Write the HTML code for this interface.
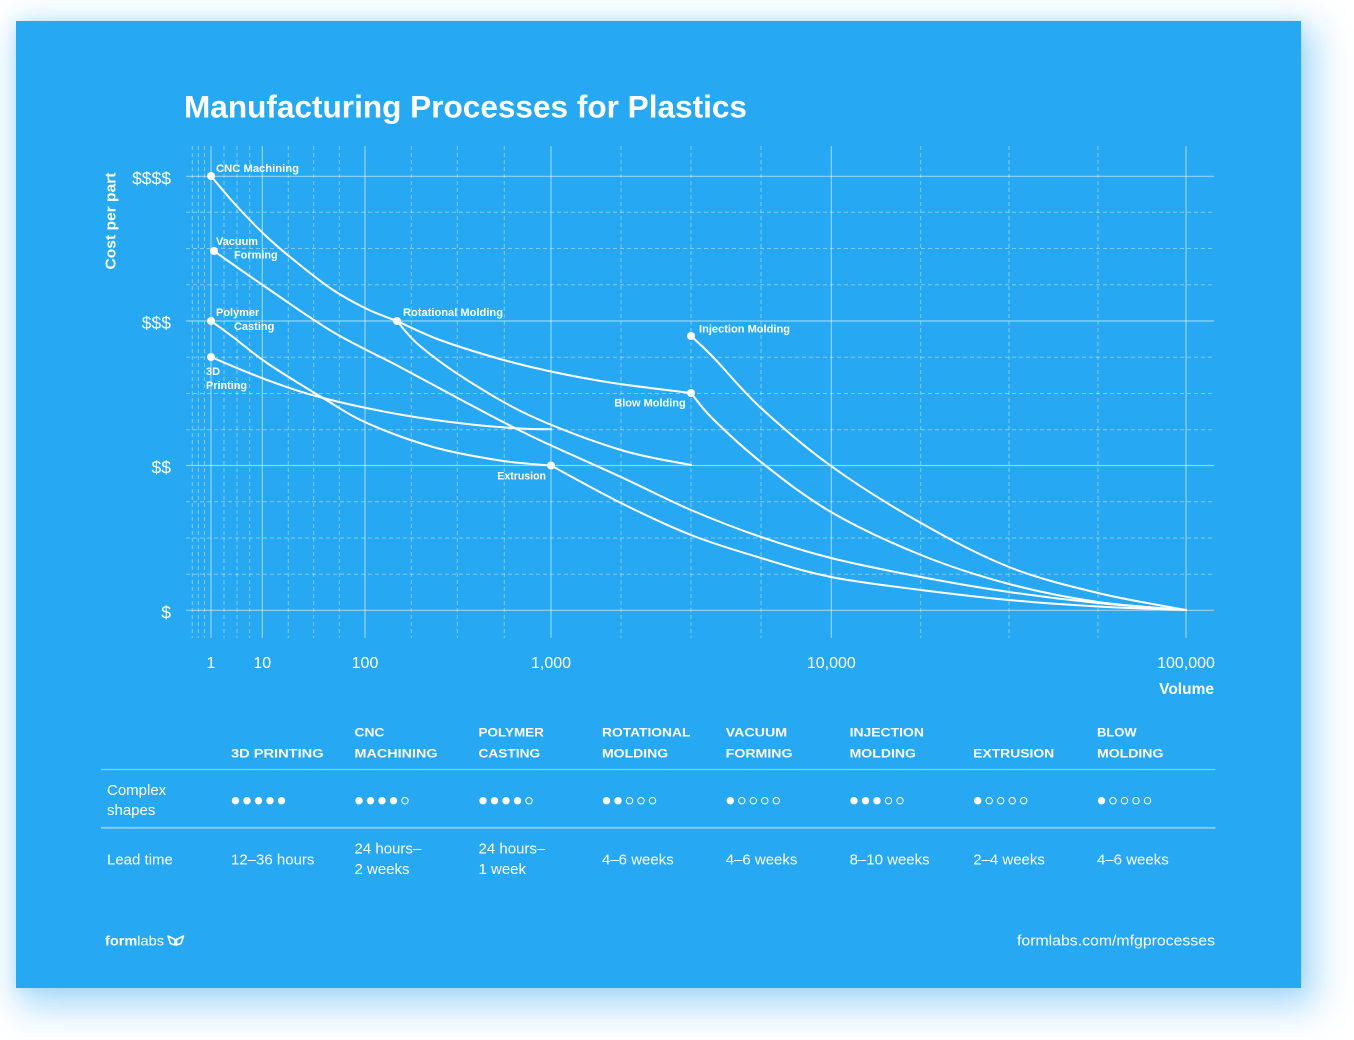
<!DOCTYPE html>
<html>
<head>
<meta charset="utf-8">
<style>
  html,body{margin:0;padding:0;background:#ffffff;}
  body{width:1354px;height:1040px;position:relative;overflow:hidden;}
  #panel{position:absolute;left:16px;top:21px;width:1285px;height:967px;background:#26a8f2;
    box-shadow:8px 12px 34px 6px rgba(40,165,240,0.42), 0 0 10px rgba(40,165,240,0.15);}
  svg{position:absolute;left:0;top:0;}
  text{font-family:"Liberation Sans",Arial,sans-serif;fill:#ffffff;}
  .lbl{font-size:11px;font-weight:bold;}
  .hdr{font-size:12px;font-weight:bold;}
  .val{font-size:15px;}
</style>
</head>
<body>
<div id="panel"></div>
<svg width="1354" height="1040" viewBox="0 0 1354 1040" xmlns="http://www.w3.org/2000/svg">
  <!-- Title -->
  <text x="184" y="117.5" font-size="31.5" font-weight="bold" textLength="563" lengthAdjust="spacingAndGlyphs">Manufacturing Processes for Plastics</text>

  <!-- Grid: vertical dashed -->
  <g stroke="rgba(255,255,255,0.42)" stroke-width="1" stroke-dasharray="4 3" fill="none">
    <line x1="192.3" y1="146" x2="192.3" y2="638"/>
    <line x1="198.3" y1="146" x2="198.3" y2="638"/>
    <line x1="204.5" y1="146" x2="204.5" y2="638"/>
    <line x1="224" y1="146" x2="224" y2="638"/>
    <line x1="237" y1="146" x2="237" y2="638"/>
    <line x1="249.7" y1="146" x2="249.7" y2="638"/>
    <line x1="288.3" y1="146" x2="288.3" y2="638"/>
    <line x1="313.7" y1="146" x2="313.7" y2="638"/>
    <line x1="339.3" y1="146" x2="339.3" y2="638"/>
    <line x1="411.3" y1="146" x2="411.3" y2="638"/>
    <line x1="457.3" y1="146" x2="457.3" y2="638"/>
    <line x1="504.3" y1="146" x2="504.3" y2="638"/>
    <line x1="621" y1="146" x2="621" y2="638"/>
    <line x1="691" y1="146" x2="691" y2="638"/>
    <line x1="761" y1="146" x2="761" y2="638"/>
    <line x1="920.7" y1="146" x2="920.7" y2="638"/>
    <line x1="1009" y1="146" x2="1009" y2="638"/>
    <line x1="1098" y1="146" x2="1098" y2="638"/>
  </g>
  <!-- Grid: horizontal dashed -->
  <g stroke="rgba(255,255,255,0.42)" stroke-width="1" stroke-dasharray="4 3" fill="none">
    <line x1="186" y1="212.3" x2="1214" y2="212.3"/>
    <line x1="186" y1="248.5" x2="1214" y2="248.5"/>
    <line x1="186" y1="284.8" x2="1214" y2="284.8"/>
    <line x1="186" y1="357.3" x2="1214" y2="357.3"/>
    <line x1="186" y1="393.5" x2="1214" y2="393.5"/>
    <line x1="186" y1="429.7" x2="1214" y2="429.7"/>
    <line x1="186" y1="501.8" x2="1214" y2="501.8"/>
    <line x1="186" y1="538" x2="1214" y2="538"/>
    <line x1="186" y1="574.2" x2="1214" y2="574.2"/>
  </g>
  <!-- Grid: solid -->
  <g stroke="rgba(255,255,255,0.5)" stroke-width="1.2" fill="none">
    <line x1="211" y1="146" x2="211" y2="638"/>
    <line x1="262.3" y1="146" x2="262.3" y2="638"/>
    <line x1="365" y1="146" x2="365" y2="638"/>
    <line x1="551" y1="146" x2="551" y2="638"/>
    <line x1="831.3" y1="146" x2="831.3" y2="638"/>
    <line x1="1186" y1="146" x2="1186" y2="638"/>
    <line x1="186" y1="176.3" x2="1214" y2="176.3"/>
    <line x1="186" y1="321" x2="1214" y2="321"/>
    <line x1="186" y1="465.5" x2="1214" y2="465.5"/>
    <line x1="186" y1="610.3" x2="1214" y2="610.3"/>
  </g>

  <!-- Curves -->
  <g stroke="#ffffff" stroke-width="2" fill="none" stroke-linejoin="round" stroke-linecap="round">
    <!-- CNC -->
    <path d="M211,176 C214.7,180.3 223.7,191.8 233,202 C242.3,212.2 255.8,226.5 267,237 C278.2,247.5 289,256.2 300,265 C311,273.8 321.8,282.7 333,290 C344.2,297.3 356.3,303.8 367,309 C377.7,314.2 392,319 397,321"/>
    <!-- Rotational shallow to Blow -->
    <path d="M397,321 C404.2,324.2 422.8,333.7 440,340 C457.2,346.3 481.5,353.75 500,359 C518.5,364.25 532.2,367.5 551,371.5 C569.8,375.5 589.7,379.4 613,383 C636.3,386.6 678,391.3 691,393"/>
    <!-- Rotational steep -->
    <path d="M397,321 C400.8,325.2 408.3,336.2 420,346 C431.7,355.8 448.2,368.2 467,380 C485.8,391.8 507.3,405.3 533,417 C558.7,428.7 594.7,442 621,450 C647.3,458 679.3,462.5 691,465"/>
    <!-- Vacuum forming -->
    <path d="M214,251 C222.8,257.2 247.2,274.5 267,288 C286.8,301.5 310.8,318.8 333,332 C355.2,345.2 377.7,355.2 400,367 C422.3,378.8 444.8,391.3 467,403 C489.2,414.7 507.3,424.7 533,437 C558.7,449.3 594.7,464.8 621,477 C647.3,489.2 667.7,500 691,510 C714.3,520 737.7,529 761,537 C784.3,545 804.3,551.3 831,558 C857.7,564.7 891.3,571.3 921,577 C950.7,582.7 979.5,587.7 1009,592 C1038.5,596.3 1068.5,600 1098,603 C1127.5,606 1171.3,608.8 1186,610"/>
    <!-- Polymer casting to Extrusion -->
    <path d="M211,321 C214.7,323.7 223.7,330 233,337 C242.3,344 252,352.8 267,363 C282,373.2 306.3,388 323,398 C339.7,408 348.7,414.8 367,423 C385.3,431.2 410.8,440.75 433,447 C455.2,453.25 480.3,457.4 500,460.5 C519.7,463.6 542.5,464.7 551,465.5"/>
    <!-- Extrusion -->
    <path d="M551,465.5 C562.7,471.75 597.7,491.4 621,503 C644.3,514.6 667.7,525.8 691,535 C714.3,544.2 737.7,551 761,558 C784.3,565 804.3,571.7 831,577 C857.7,582.3 891.3,586.2 921,590 C950.7,593.8 979.5,597.25 1009,600 C1038.5,602.75 1068.5,604.8 1098,606.5 C1127.5,608.2 1171.3,609.4 1186,610"/>
    <!-- 3D printing -->
    <path d="M211,357 C220.3,360.8 248.3,373.2 267,380 C285.7,386.8 300.8,392.25 323,398 C345.2,403.75 376,410.2 400,414.5 C424,418.8 447,421.7 467,424 C487,426.3 506,427.6 520,428.5 C534,429.4 545.8,429.2 551,429.3"/>
    <!-- Blow molding -->
    <path d="M691,393 C694.7,397.3 701.3,407.5 713,419 C724.7,430.5 741.3,446.5 761,462 C780.7,477.5 804.3,496.5 831,512 C857.7,527.5 891.3,543 921,555 C950.7,567 979.5,576.2 1009,584 C1038.5,591.8 1068.5,597.7 1098,602 C1127.5,606.3 1171.3,608.7 1186,610"/>
    <!-- Injection molding -->
    <path d="M691,336 C694.7,339.5 701.3,345 713,357 C724.7,369 741.3,389.8 761,408 C780.7,426.2 804.3,446.8 831,466 C857.7,485.2 891.3,506.2 921,523 C950.7,539.8 979.5,555.3 1009,567 C1038.5,578.7 1068.5,585.8 1098,593 C1127.5,600.2 1171.3,607.2 1186,610"/>
  </g>

  <!-- Dots -->
  <g fill="#ffffff">
    <circle cx="211" cy="176" r="4"/>
    <circle cx="214" cy="251" r="4"/>
    <circle cx="211" cy="321" r="4"/>
    <circle cx="211" cy="357" r="4"/>
    <circle cx="397" cy="321" r="4"/>
    <circle cx="551" cy="465.5" r="4"/>
    <circle cx="691" cy="393" r="4"/>
    <circle cx="691" cy="336" r="4"/>
  </g>

  <!-- Point labels -->
  <text class="lbl" x="216" y="172" textLength="83" lengthAdjust="spacingAndGlyphs">CNC Machining</text>
  <text class="lbl" x="216" y="245" textLength="42" lengthAdjust="spacingAndGlyphs">Vacuum</text>
  <text class="lbl" x="234" y="258.5" textLength="43.7" lengthAdjust="spacingAndGlyphs">Forming</text>
  <text class="lbl" x="216" y="316" textLength="43.3" lengthAdjust="spacingAndGlyphs">Polymer</text>
  <text class="lbl" x="234" y="330" textLength="40.3" lengthAdjust="spacingAndGlyphs">Casting</text>
  <text class="lbl" x="206" y="375">3D</text>
  <text class="lbl" x="206" y="389" textLength="41" lengthAdjust="spacingAndGlyphs">Printing</text>
  <text class="lbl" x="403" y="316" textLength="100" lengthAdjust="spacingAndGlyphs">Rotational Molding</text>
  <text class="lbl" x="497.3" y="479.3" textLength="48.7" lengthAdjust="spacingAndGlyphs">Extrusion</text>
  <text class="lbl" x="614.3" y="406.5" textLength="71.4" lengthAdjust="spacingAndGlyphs">Blow Molding</text>
  <text class="lbl" x="699" y="332.5" textLength="91" lengthAdjust="spacingAndGlyphs">Injection Molding</text>

  <!-- Y axis -->
  <text x="0" y="0" font-size="15" font-weight="bold" transform="translate(115.5,221) rotate(-90)" text-anchor="middle" textLength="97" lengthAdjust="spacingAndGlyphs">Cost per part</text>
  <g font-size="17.5" text-anchor="end">
    <text x="171" y="184.3">$$$$</text>
    <text x="171" y="329">$$$</text>
    <text x="171" y="473.5">$$</text>
    <text x="171" y="618.3">$</text>
  </g>

  <!-- X axis -->
  <g font-size="16" text-anchor="middle">
    <text x="211" y="668">1</text>
    <text x="262.3" y="668">10</text>
    <text x="365" y="668">100</text>
    <text x="551" y="668">1,000</text>
    <text x="831.3" y="668">10,000</text>
    <text x="1186" y="668">100,000</text>
  </g>
  <text x="1214" y="694" font-size="15.5" font-weight="bold" text-anchor="end">Volume</text>

  <!-- Table headers -->
  <text class="hdr" x="231" y="757.5" textLength="92.6" lengthAdjust="spacingAndGlyphs">3D PRINTING</text>
  <text class="hdr" x="354.5" y="736.5" textLength="29.9" lengthAdjust="spacingAndGlyphs">CNC</text>
  <text class="hdr" x="354.5" y="757.5" textLength="83" lengthAdjust="spacingAndGlyphs">MACHINING</text>
  <text class="hdr" x="478.5" y="736.5" textLength="65.4" lengthAdjust="spacingAndGlyphs">POLYMER</text>
  <text class="hdr" x="478.5" y="757.5" textLength="61.6" lengthAdjust="spacingAndGlyphs">CASTING</text>
  <text class="hdr" x="602" y="736.5" textLength="88.4" lengthAdjust="spacingAndGlyphs">ROTATIONAL</text>
  <text class="hdr" x="602" y="757.5" textLength="66.2" lengthAdjust="spacingAndGlyphs">MOLDING</text>
  <text class="hdr" x="725.7" y="736.5" textLength="61.4" lengthAdjust="spacingAndGlyphs">VACUUM</text>
  <text class="hdr" x="725.7" y="757.5" textLength="66.8" lengthAdjust="spacingAndGlyphs">FORMING</text>
  <text class="hdr" x="849.6" y="736.5" textLength="74.3" lengthAdjust="spacingAndGlyphs">INJECTION</text>
  <text class="hdr" x="849.6" y="757.5" textLength="66.4" lengthAdjust="spacingAndGlyphs">MOLDING</text>
  <text class="hdr" x="973.2" y="757.5" textLength="81" lengthAdjust="spacingAndGlyphs">EXTRUSION</text>
  <text class="hdr" x="1097" y="736.5" textLength="39.6" lengthAdjust="spacingAndGlyphs">BLOW</text>
  <text class="hdr" x="1097" y="757.5" textLength="66.4" lengthAdjust="spacingAndGlyphs">MOLDING</text>

  <!-- Table dividers -->
  <line x1="101" y1="769.5" x2="1215.5" y2="769.5" stroke="rgba(255,255,255,0.45)" stroke-width="1.2"/>
  <line x1="101" y1="827.8" x2="1215.5" y2="827.8" stroke="rgba(255,255,255,0.45)" stroke-width="1.8"/>

  <!-- Row labels -->
  <text class="val" x="107" y="795">Complex</text>
  <text class="val" x="107" y="815">shapes</text>
  <text class="val" x="107" y="864.3">Lead time</text>

  <!-- Dots rating -->
  <g fill="#ffffff">
    <circle cx="235.5" cy="800.7" r="3.7"/><circle cx="247" cy="800.7" r="3.7"/><circle cx="258.5" cy="800.7" r="3.7"/><circle cx="270" cy="800.7" r="3.7"/><circle cx="281.5" cy="800.7" r="3.7"/>
    <circle cx="359" cy="800.7" r="3.7"/><circle cx="370.5" cy="800.7" r="3.7"/><circle cx="382" cy="800.7" r="3.7"/><circle cx="393.5" cy="800.7" r="3.7"/>
    <circle cx="483" cy="800.7" r="3.7"/><circle cx="494.5" cy="800.7" r="3.7"/><circle cx="506" cy="800.7" r="3.7"/><circle cx="517.5" cy="800.7" r="3.7"/>
    <circle cx="606.5" cy="800.7" r="3.7"/><circle cx="618" cy="800.7" r="3.7"/>
    <circle cx="730.3" cy="800.7" r="3.7"/>
    <circle cx="854" cy="800.7" r="3.7"/><circle cx="865.5" cy="800.7" r="3.7"/><circle cx="877" cy="800.7" r="3.7"/>
    <circle cx="977.7" cy="800.7" r="3.7"/>
    <circle cx="1101.5" cy="800.7" r="3.7"/>
  </g>
  <g fill="none" stroke="#ffffff" stroke-width="1">
    <circle cx="405" cy="800.7" r="3.2"/>
    <circle cx="529" cy="800.7" r="3.2"/>
    <circle cx="629.5" cy="800.7" r="3.2"/><circle cx="641" cy="800.7" r="3.2"/><circle cx="652.5" cy="800.7" r="3.2"/>
    <circle cx="741.8" cy="800.7" r="3.2"/><circle cx="753.3" cy="800.7" r="3.2"/><circle cx="764.8" cy="800.7" r="3.2"/><circle cx="776.3" cy="800.7" r="3.2"/>
    <circle cx="888.5" cy="800.7" r="3.2"/><circle cx="900" cy="800.7" r="3.2"/>
    <circle cx="989.2" cy="800.7" r="3.2"/><circle cx="1000.7" cy="800.7" r="3.2"/><circle cx="1012.2" cy="800.7" r="3.2"/><circle cx="1023.7" cy="800.7" r="3.2"/>
    <circle cx="1113" cy="800.7" r="3.2"/><circle cx="1124.5" cy="800.7" r="3.2"/><circle cx="1136" cy="800.7" r="3.2"/><circle cx="1147.5" cy="800.7" r="3.2"/>
  </g>

  <!-- Lead times -->
  <text class="val" x="231" y="864.3">12–36 hours</text>
  <text class="val" x="354.5" y="853.3">24 hours–</text>
  <text class="val" x="354.5" y="874">2 weeks</text>
  <text class="val" x="478.5" y="853.3">24 hours–</text>
  <text class="val" x="478.5" y="874">1 week</text>
  <text class="val" x="602" y="864.3">4–6 weeks</text>
  <text class="val" x="725.7" y="864.3">4–6 weeks</text>
  <text class="val" x="849.6" y="864.3">8–10 weeks</text>
  <text class="val" x="973.2" y="864.3">2–4 weeks</text>
  <text class="val" x="1097" y="864.3">4–6 weeks</text>

  <!-- Footer -->
  <text x="105" y="945.7" font-size="14" textLength="59" lengthAdjust="spacingAndGlyphs"><tspan font-weight="bold">form</tspan>labs</text>
  <g fill="none" stroke="#ffffff" stroke-width="1.6" stroke-linejoin="round">
    <path d="M168,936 L175,939.5 L175,945 L170.5,943.5 Z"/>
    <path d="M183.5,936 L176.5,939.5 L176.5,945 L181,943.5 Z"/>
  </g>
  <text x="1215" y="945.7" font-size="15" text-anchor="end" textLength="198" lengthAdjust="spacingAndGlyphs">formlabs.com/mfgprocesses</text>
</svg>
</body>
</html>
